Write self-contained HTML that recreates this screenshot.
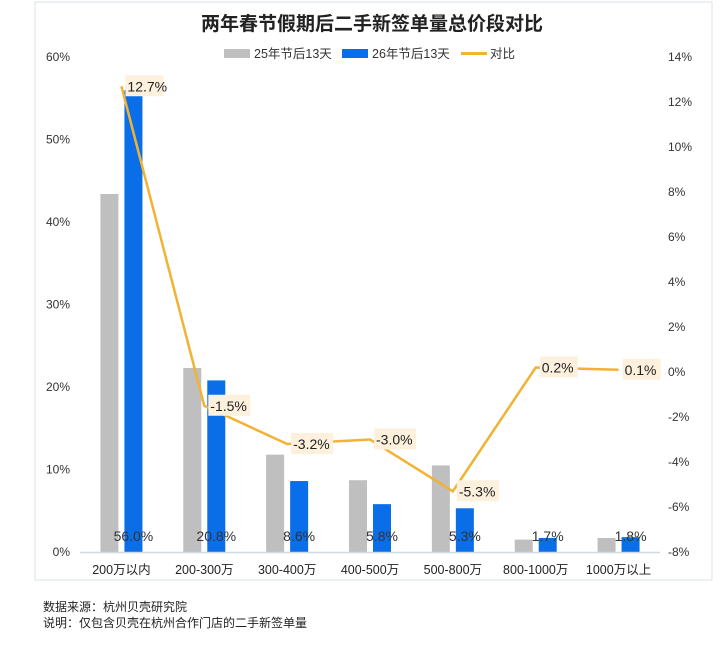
<!DOCTYPE html>
<html><head><meta charset="utf-8"><style>
body{margin:0;background:#fff;width:720px;height:640px;overflow:hidden;font-family:"Liberation Sans","Noto Sans CJK SC",sans-serif;}
svg text{font-family:"Liberation Sans","Noto Sans CJK SC",sans-serif;}
</style></head><body>
<svg id="c" width="720" height="640">
<rect x="35" y="2" width="677" height="578" fill="#fff" stroke="#dde3ea"/>
<text x="372" y="30" text-anchor="middle" font-size="19" font-weight="bold" fill="#222">两年春节假期后二手新签单量总价段对比</text>
<g>
<rect x="224" y="49" width="26" height="9" fill="#bfbfbf"/>
<text x="254" y="58" font-size="12.5" fill="#333">25年节后13天</text>
<rect x="342" y="49" width="26" height="9" fill="#0a6ee8"/>
<text x="372" y="58" font-size="12.5" fill="#333">26年节后13天</text>
<line x1="461" y1="53.5" x2="487" y2="53.5" stroke="#f2b233" stroke-width="3"/>
<text x="490" y="58" font-size="12.5" fill="#333">对比</text>
</g>
<g id="g"></g>
<text x="43" y="611" font-size="12" fill="#222">数据来源：杭州贝壳研究院</text>
<text x="43" y="627" font-size="12" fill="#222">说明：仅包含贝壳在杭州合作门店的二手新签单量</text>
</svg>
<script>
const categories=["200万以内","200-300万","300-400万","400-500万","500-800万","800-1000万","1000万以上"];
const series25=[43.4,22.3,11.8,8.7,10.5,1.5,1.7];
const series26=[56.0,20.8,8.6,5.8,5.3,1.7,1.8];
const ratio=[12.7,-1.5,-3.2,-3.0,-5.3,0.2,0.1];
const leftTicks=[0,10,20,30,40,50,60];
const rightTicks=[-8,-6,-4,-2,0,2,4,6,8,10,12,14];
const NS="http://www.w3.org/2000/svg";
const g=document.getElementById('g');
const x0=80,x1=660,yB=552,yT=57;
const yL=v=>yB-(v/60)*(yB-yT);
const yR=v=>yB-((v+8)/22)*(yB-yT);
const bw=(x1-x0)/categories.length;
const cx=i=>x0+bw*(i+0.5);
function mk(t,a){const e=document.createElementNS(NS,t);for(const k in a)e.setAttribute(k,a[k]);g.appendChild(e);return e;}
leftTicks.forEach(v=>{const t=mk('text',{x:70,y:yL(v)+4,'text-anchor':'end','font-size':12,fill:'#333'});t.textContent=v+'%';

});
rightTicks.forEach(v=>{const t=mk('text',{x:668,y:yR(v)+4,'font-size':12,fill:'#333'});t.textContent=v+'%';

});
categories.forEach((c,i)=>{
const a=mk('rect',{x:cx(i)-21,y:yL(series25[i]),width:18,height:yB-yL(series25[i]),fill:'#bfbfbf'});


const b=mk('rect',{x:cx(i)+3,y:yL(series26[i]),width:18,height:yB-yL(series26[i]),fill:'#0a6ee8'});


const v=mk('text',{x:cx(i)+12,y:541,'text-anchor':'middle','font-size':14,fill:'#333'});v.textContent=series26[i].toFixed(1)+'%';


const l=mk('text',{x:cx(i),y:574,'text-anchor':'middle','font-size':12.5,fill:'#222'});l.textContent=c;


});
const ax=mk('line',{x1:x0,y1:yB+0.5,x2:x1,y2:yB+0.5,stroke:'#d0d8e0','stroke-width':1.5});


const pl=mk('polyline',{points:ratio.map((v,i)=>cx(i)+','+yR(v)).join(' '),fill:'none',stroke:'#f2b233','stroke-width':2.5});


ratio.forEach((v,i)=>{
const y=yR(v);const w=v<0?42:38;
const r=mk('rect',{x:cx(i)+4,y:y-11,width:w,height:21,fill:'#fdf0dc'});


const t=mk('text',{x:cx(i)+6,y:y+5,'font-size':14,fill:'#222'});t.textContent=v.toFixed(1)+'%';


});
</script>
</body></html>
